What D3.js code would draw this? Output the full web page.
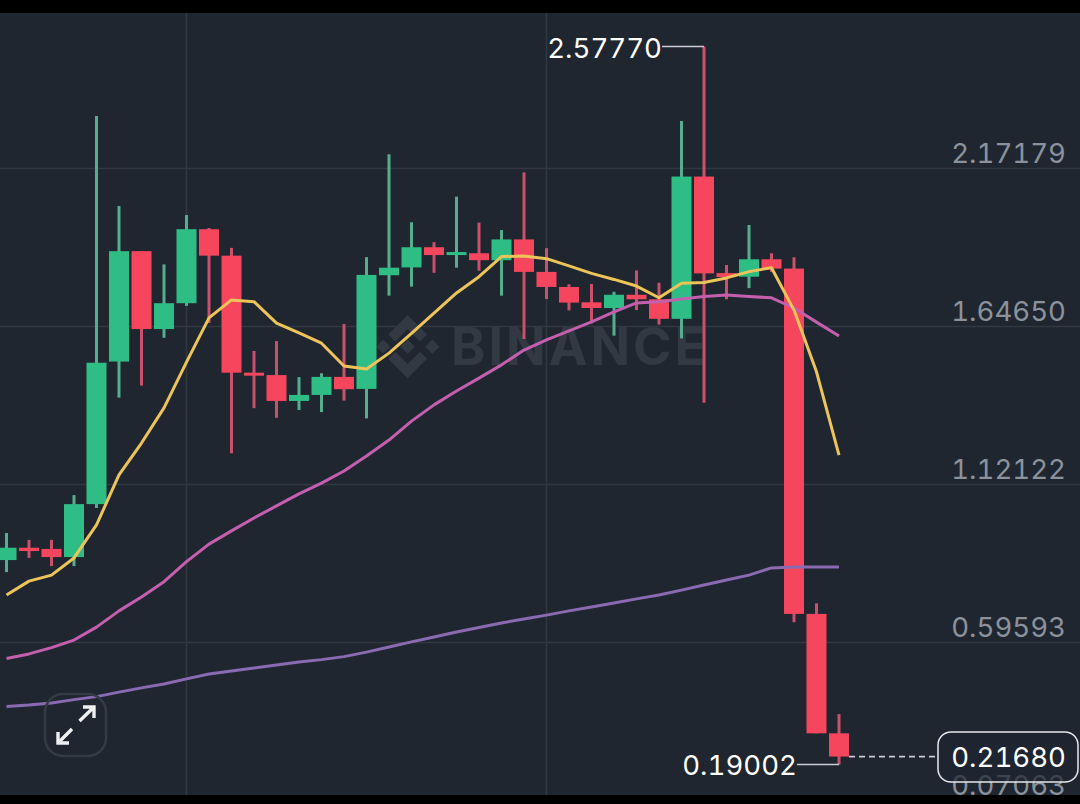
<!DOCTYPE html>
<html>
<head>
<meta charset="utf-8">
<script src="https://cdn.jsdelivr.net/npm/d3@7"></script>
<style>
html,body{margin:0;padding:0;background:#000;}
svg{display:block;}
text{font-family:Inter,"Noto Sans",sans-serif;font-variant-numeric:tabular-nums;font-feature-settings:"tnum" 1;}
</style>
</head>
<body>
<svg id="c" width="1080" height="804"></svg>
<script>
const opens = [.870,.911,.907,.880,1.056,1.530,1.897,1.638,1.724,1.970,1.882,1.493,1.485,1.399,1.419,1.479,1.439,1.817,1.843,1.910,1.884,1.890,1.867,1.936,1.828,1.778,1.727,1.708,1.752,1.737,1.672,2.145,1.824,1.812,1.870,1.839,.691,.294];
const closes = [.911,.900,.880,1.056,1.526,1.897,1.638,1.724,1.970,1.882,1.493,1.483,1.399,1.419,1.479,1.438,1.818,1.842,1.910,1.884,1.894,1.867,1.936,1.828,1.778,1.726,1.708,1.752,1.737,1.672,2.145,1.823,1.811,1.870,1.839,.691,.294,.2168];
const highs = [.960,.937,.937,1.086,2.346,2.047,1.897,1.853,2.017,1.974,1.908,1.565,1.598,1.478,1.491,1.655,1.877,2.219,1.993,1.927,2.078,1.992,1.967,2.159,1.907,1.787,1.788,1.762,1.833,1.792,2.330,2.5777,1.851,1.984,1.890,1.877,.726,.358];
const lows = [.830,.877,.850,.850,1.043,1.410,1.450,1.609,1.715,1.658,1.225,1.375,1.343,1.369,1.362,1.400,1.341,1.749,1.779,1.825,1.842,1.832,1.749,1.605,1.738,1.700,1.657,1.616,1.701,1.653,1.607,1.393,1.737,1.774,1.828,.663,.294,.19002];
const ma7 = [.754,.800,.820,.877,.987,1.153,1.259,1.376,1.528,1.675,1.735,1.729,1.658,1.625,1.591,1.515,1.505,1.558,1.624,1.691,1.758,1.812,1.879,1.881,1.872,1.848,1.823,1.803,1.781,1.742,1.790,1.793,1.808,1.829,1.842,1.701,1.496,1.219];
const ma25 = [.543,.558,.579,.604,.647,.701,.747,.798,.865,.923,.967,1.010,1.050,1.090,1.126,1.166,1.216,1.269,1.332,1.386,1.432,1.475,1.519,1.568,1.602,1.632,1.662,1.695,1.725,1.729,1.738,1.746,1.751,1.746,1.742,1.708,1.661,1.615];
const ma99 = [.383,.388,.395,.406,.416,.431,.445,.458,.475,.491,.501,.511,.521,.531,.539,.549,.564,.581,.598,.614,.631,.646,.661,.674,.687,.701,.714,.727,.741,.754,.770,.787,.804,.820,.844,.847,.847,.847];
const priceTicks = ["2.17179","1.64650","1.12122","0.59593","0.07063"];
const vGridIdx = [8,24];
const highLabel = "2.57770", lowLabel = "0.19002", lastLabel = "0.21680";

const W=1080,H=804,paneTop=13,paneBottom=795,FS=27.6;
const BG="#1f2630",GRID="#323842",GREEN="#2ebd85",RED="#f6465d",TICK="#8b929c";
const WICK_G="#55ae8e",WICK_R="#c9516b";
const svg=d3.select("#c");
const x=d3.scaleLinear().domain([0,37]).range([6.5,839]);
const y=d3.scaleLinear().domain([0.59593,2.17179]).range([642.5,168.5]);
const idx=d3.range(opens.length);

svg.append("defs").append("clipPath").attr("id","pane").append("rect").attr("x",0).attr("y",paneTop).attr("width",W).attr("height",paneBottom-paneTop);
svg.append("rect").attr("width",W).attr("height",H).attr("fill","#000");
const g=svg.append("g").attr("clip-path","url(#pane)");
g.append("rect").attr("x",0).attr("y",paneTop).attr("width",W).attr("height",paneBottom-paneTop).attr("fill",BG);

// grid
priceTicks.slice(0,4).forEach(t=>{
  g.append("line").attr("x1",0).attr("x2",W).attr("y1",y(+t)).attr("y2",y(+t)).attr("stroke",GRID).attr("stroke-width",1.5);
});
vGridIdx.forEach(i=>{
  g.append("line").attr("x1",x(i)).attr("x2",x(i)).attr("y1",paneTop).attr("y2",paneBottom).attr("stroke",GRID).attr("stroke-width",1.5);
});

// watermark
const wm=g.append("g").attr("fill","#323943");
wm.append("path").attr("transform","translate(376,315) scale(0.5)")
  .attr("d","M38.73 53.2l24.59-24.58 24.6 24.6 14.3-14.31L63.32 0 24.42 38.9l14.31 14.3zM0 63.31L14.3 49l14.31 14.31-14.31 14.3L0 63.31zm38.73 10.1l24.59 24.59 24.6-24.6 14.31 14.29-.01.01-38.9 38.91-38.9-38.88-.02-.02 14.33-14.3zM98.28 63.31l14.3-14.3 14.32 14.3-14.31 14.3-14.31-14.3zM77.83 63.3L63.32 48.78 52.59 59.51l-1.24 1.23-2.54 2.54 14.51 14.52 14.51-14.5z");
wm.append("text").attr("x",451).attr("y",365).attr("font-size",52).attr("font-weight",700).attr("letter-spacing",3).text("BINANCE");

// candles
const up=i=>closes[i]>=opens[i];
g.append("g").selectAll("line").data(idx).join("line")
  .attr("x1",i=>x(i)).attr("x2",i=>x(i)).attr("y1",i=>y(highs[i])).attr("y2",i=>y(lows[i]))
  .attr("stroke",i=>up(i)?WICK_G:WICK_R).attr("stroke-width",3);
g.append("g").selectAll("rect").data(idx).join("rect")
  .attr("x",i=>x(i)-10).attr("width",20)
  .attr("y",i=>y(Math.max(opens[i],closes[i])))
  .attr("height",i=>Math.max(2.5,Math.abs(y(opens[i])-y(closes[i]))))
  .attr("fill",i=>up(i)?GREEN:RED);

// moving averages
const line=d3.line().x((d,i)=>x(i)).y(d=>y(d));
[[ma99,"#8a6bb3"],[ma25,"#c45fae"],[ma7,"#edc45a"]].forEach(([s,c])=>{
  g.append("path").attr("d",line(s)).attr("fill","none").attr("stroke",c).attr("stroke-width",3).attr("stroke-linejoin","round");
});

// price labels
g.append("g").selectAll("text").data(priceTicks).join("text")
  .attr("x",1066).attr("y",t=>y(+t)-5.5).attr("text-anchor","end")
  .attr("font-size",FS).attr("fill",TICK).text(d=>d);

// high / low leaders
const iHi=d3.maxIndex(highs), iLo=d3.minIndex(lows);
g.append("line").attr("x1",662).attr("x2",x(iHi)).attr("y1",y(+highLabel)).attr("y2",y(+highLabel)).attr("stroke","#c9ccd2").attr("stroke-width",1.5);
g.append("text").attr("x",662).attr("y",y(+highLabel)+11.5).attr("text-anchor","end").attr("font-size",FS).attr("fill","#fff").text(highLabel);
g.append("line").attr("x1",797).attr("x2",x(iLo)).attr("y1",y(+lowLabel)).attr("y2",y(+lowLabel)).attr("stroke","#c9ccd2").attr("stroke-width",1.5);
g.append("text").attr("x",797).attr("y",y(+lowLabel)+10.5).attr("text-anchor","end").attr("font-size",FS).attr("fill","#fff").text(lowLabel);

// last price
g.append("line").attr("x1",x(37)+10).attr("x2",937).attr("y1",y(+lastLabel)).attr("y2",y(+lastLabel))
  .attr("stroke","#c9ccd2").attr("stroke-width",1.8).attr("stroke-dasharray","6 4");
g.append("rect").attr("x",938).attr("y",732).attr("width",140).attr("height",50).attr("rx",13)
  .attr("fill",BG).attr("fill-opacity",.72).attr("stroke","#e6e8ea").attr("stroke-width",1.5);
g.append("text").attr("x",1066).attr("y",y(+lastLabel)+10).attr("text-anchor","end").attr("font-size",FS).attr("fill","#fff").text(lastLabel);

// expand button
g.append("rect").attr("x",45).attr("y",694).attr("width",61).attr("height",62).attr("rx",18)
  .attr("fill","none").attr("stroke","#343b45").attr("stroke-width",2.5);
const arrows=g.append("g").attr("fill","none").attr("stroke","#eef0f2").attr("stroke-width",3.4);
arrows.append("path").attr("d","M79.5 721L94 707M83 707H94V718");
arrows.append("path").attr("d","M72 729L58 743M58 732V743H69");
</script>
</body>
</html>
